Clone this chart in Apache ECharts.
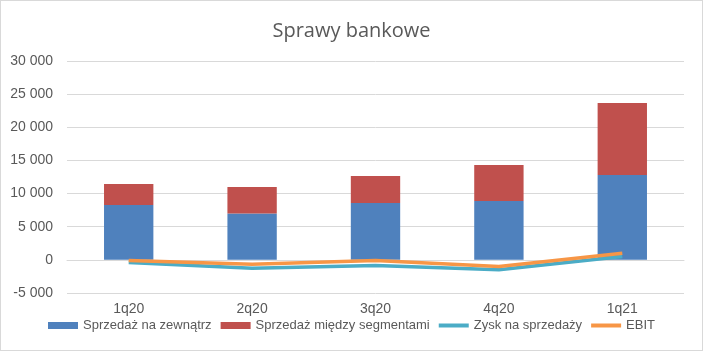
<!DOCTYPE html>
<html>
<head>
<meta charset="utf-8">
<script src="https://cdn.jsdelivr.net/npm/echarts@6/dist/echarts.min.js"></script>
<style>
html, body { margin: 0; padding: 0; background: #fff; }
#main { width: 701px; height: 349px; border: 1px solid #d9d9d9; }
</style>
</head>
<body>
<div id="main"></div>
<script>
// dane
const categories = ['1q20', '2q20', '3q20', '4q20', '1q21'];
const sprzedazZewn = [8290, 6980, 8590, 8890, 12810];
const sprzedazSegm = [3170, 4020, 4070, 5430, 10860];
const zyskSprzedaz = [-400, -1250, -850, -1500, 500];
const ebit = [-100, -650, -100, -1000, 1000];

const fmt = v => String(v).replace(/\B(?=(\d{3})+(?!\d))/g, ' ');
const textColor = '#595959';
const lineIcon = 'path://M0,0h30v4h-30z';

const chart = echarts.init(document.getElementById('main'));
chart.setOption({
    animation: false,
    title: {
        text: 'Sprawy bankowe',
        left: 'center',
        top: 15,
        textStyle: { fontFamily: 'Open Sans', fontSize: 20, fontWeight: 'normal', color: textColor }
    },
    legend: {
        bottom: 13,
        left: 'center',
        itemGap: 9,
        itemWidth: 30,
        itemHeight: 7,
        textStyle: { fontFamily: 'Liberation Sans', fontSize: 13, color: textColor },
        data: [
            { name: 'Sprzedaż na zewnątrz', icon: 'rect' },
            { name: 'Sprzedaż między segmentami', icon: 'rect' },
            { name: 'Zysk na sprzedaży', icon: lineIcon },
            { name: 'EBIT', icon: lineIcon }
        ]
    },
    grid: { left: 66, right: 18, top: 60, bottom: 57 },
    xAxis: {
        type: 'category',
        data: categories,
        axisLine: { onZero: true, lineStyle: { color: '#d9d9d9' } },
        axisTick: { show: false },
        axisLabel: { color: textColor, fontFamily: 'Liberation Sans', fontSize: 14, margin: 9 }
    },
    yAxis: {
        type: 'value',
        min: -5000,
        max: 30000,
        interval: 5000,
        axisLine: { show: false },
        axisTick: { show: false },
        splitLine: { lineStyle: { color: '#d9d9d9' } },
        axisLabel: { color: textColor, fontFamily: 'Liberation Sans', fontSize: 14, margin: 14, formatter: fmt }
    },
    series: [
        { name: 'Sprzedaż na zewnątrz', type: 'bar', stack: 'sprzedaz', barWidth: '40%', data: sprzedazZewn, itemStyle: { color: '#4f81bd' } },
        { name: 'Sprzedaż między segmentami', type: 'bar', stack: 'sprzedaz', data: sprzedazSegm, itemStyle: { color: '#c0504d' } },
        { name: 'Zysk na sprzedaży', type: 'line', data: zyskSprzedaz, symbol: 'none', lineStyle: { width: 3.5, color: '#4bacc6' }, itemStyle: { color: '#4bacc6' } },
        { name: 'EBIT', type: 'line', data: ebit, symbol: 'none', lineStyle: { width: 3.5, color: '#f79646' }, itemStyle: { color: '#f79646' } }
    ]
});
</script>
</body>
</html>
